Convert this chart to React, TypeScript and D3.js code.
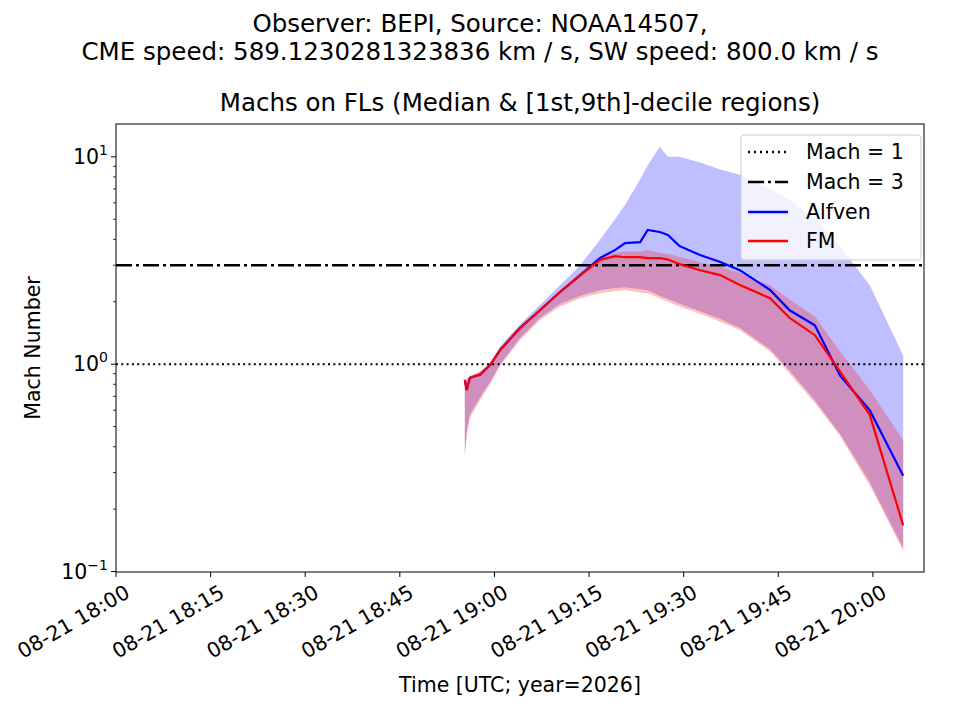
import * as d3 from 'd3';

// minutes after 2026-08-21 18:00 UTC
const minutes = [55.3, 55.6, 56.1, 57.7, 59.3, 60.9, 64.0, 67.2, 70.4, 73.6, 76.7, 79.1, 80.7, 83.1, 84.3, 86.2, 87.5, 89.3, 92.6, 95.8, 98.9, 103.7, 106.8, 110.8, 114.8, 119.5, 124.8];
const alfvenMedian = [0.84, 0.75, 0.86, 0.89, 0.99, 1.17, 1.49, 1.82, 2.23, 2.69, 3.25, 3.55, 3.84, 3.88, 4.44, 4.34, 4.2, 3.72, 3.36, 3.11, 2.84, 2.28, 1.82, 1.54, 0.88, 0.6, 0.29];
const alfvenUpper = [0.84, 0.85, 0.87, 0.92, 1.0, 1.22, 1.55, 1.93, 2.4, 3.0, 3.97, 5.0, 5.86, 7.8, 9.1, 11.2, 10.0, 10.0, 9.4, 8.7, 8.2, 7.0, 6.2, 5.0, 3.7, 2.4, 1.1];
const alfvenLower = [0.37, 0.47, 0.57, 0.69, 0.82, 1.0, 1.33, 1.67, 1.95, 2.14, 2.27, 2.33, 2.35, 2.3, 2.27, 2.14, 2.06, 1.96, 1.8, 1.65, 1.5, 1.18, 0.93, 0.67, 0.46, 0.27, 0.13];
const fmMedian = [0.84, 0.75, 0.86, 0.89, 0.99, 1.17, 1.49, 1.82, 2.23, 2.69, 3.18, 3.32, 3.28, 3.28, 3.25, 3.25, 3.2, 3.04, 2.84, 2.69, 2.41, 2.08, 1.67, 1.38, 0.92, 0.57, 0.167];
const fmUpper = [0.86, 0.78, 0.88, 0.92, 1.02, 1.2, 1.52, 1.85, 2.27, 2.75, 3.3, 3.45, 3.5, 3.5, 3.55, 3.45, 3.4, 3.3, 3.1, 2.95, 2.75, 2.4, 2.05, 1.7, 1.15, 0.75, 0.43];
const fmLower = [0.36, 0.45, 0.55, 0.67, 0.8, 0.98, 1.3, 1.63, 1.9, 2.08, 2.2, 2.25, 2.28, 2.22, 2.2, 2.08, 2.0, 1.9, 1.75, 1.6, 1.46, 1.15, 0.9, 0.65, 0.45, 0.26, 0.126];
const tickMinutes = [0, 15, 30, 45, 60, 75, 90, 105, 120];
const tickLabels = ['08-21 18:00', '08-21 18:15', '08-21 18:30', '08-21 18:45', '08-21 19:00', '08-21 19:15', '08-21 19:30', '08-21 19:45', '08-21 20:00'];

const L = 116, R = 924, T = 124, B = 572;

export default function App() {
  const x = d3.scaleLinear().domain([0, 128.1]).range([L, R]);
  const y = d3.scaleLog().domain([0.0995, 14.4]).range([B, T]);
  const idx = minutes.map((_, i) => i);
  const area = (lo: number[], hi: number[]) =>
    d3.area<number>().x((i) => x(minutes[i])).y0((i) => y(lo[i])).y1((i) => y(hi[i]))(idx) || '';
  const line = (v: number[]) => d3.line<number>().x((i) => x(minutes[i])).y((i) => y(v[i]))(idx) || '';
  const minor: number[] = [];
  for (const dec of [0.1, 1, 10]) for (let k = 2; k <= 9; k++) { const v = dec * k; if (v <= 14.4) minor.push(v); }
  const font = 'DejaVu Sans, sans-serif';
  const fs = 20.5;
  return (
    <svg width={944} height={704} style={{ display: 'block' }} fontFamily={font}>
      <g transform="translate(-8,-8)">
        <rect x={0} y={0} width={960} height={720} fill="#fff" />
        <text x={480} y={32} textAnchor="middle" fontSize={24.5}>Observer: BEPI, Source: NOAA14507,</text>
        <text x={480} y={60} textAnchor="middle" fontSize={24.5}>CME speed: 589.1230281323836 km / s, SW speed: 800.0 km / s</text>
        <text x={520} y={111} textAnchor="middle" fontSize={24.5}>Machs on FLs (Median &amp; [1st,9th]-decile regions)</text>
        <defs><clipPath id="c"><rect x={L} y={T} width={R - L} height={B - T} /></clipPath></defs>
        <g clipPath="url(#c)">
          <path d={area(alfvenLower, alfvenUpper)} fill="rgba(0,0,255,0.25)" />
          <path d={area(fmLower, fmUpper)} fill="rgba(255,0,0,0.25)" />
          <line x1={L} x2={R} y1={y(1)} y2={y(1)} stroke="#000" strokeWidth={2} strokeDasharray="2,3.3" />
          <line x1={L} x2={R} y1={y(3)} y2={y(3)} stroke="#000" strokeWidth={2.5} strokeDasharray="16,4,3,4" />
          <path d={line(alfvenMedian)} fill="none" stroke="#0000ff" strokeWidth={2.2} />
          <path d={line(fmMedian)} fill="none" stroke="#ff0000" strokeWidth={2.2} />
        </g>
        <rect x={L} y={T} width={R - L} height={B - T} fill="none" stroke="#000" strokeWidth={1} />
        {tickMinutes.map((m, i) => (
          <g key={m}>
            <line x1={x(m)} x2={x(m)} y1={B} y2={B + 5} stroke="#000" />
            <text transform={`translate(${x(m) + 8},${B + 12}) rotate(-30)`} textAnchor="end" fontSize={fs} dy="0.7em">{tickLabels[i]}</text>
          </g>
        ))}
        {[0.1, 1, 10].map((v, i) => (
          <g key={v}>
            <line x1={L - 5} x2={L} y1={y(v)} y2={y(v)} stroke="#000" />
            <text x={L - 8} y={y(v) + 7} textAnchor="end" fontSize={fs}>10<tspan dy={-9} fontSize={14}>{['−1', '0', '1'][i]}</tspan></text>
          </g>
        ))}
        {minor.map((v) => <line key={v} x1={L - 3} x2={L} y1={y(v)} y2={y(v)} stroke="#000" strokeWidth={0.8} />)}
        <text x={520} y={692} textAnchor="middle" fontSize={fs}>Time [UTC; year=2026]</text>
        <text transform="translate(40,348) rotate(-90)" textAnchor="middle" fontSize={fs}>Mach Number</text>
        <g>
          <rect x={741} y={135} width={180} height={125} rx={3} fill="rgba(255,255,255,0.8)" stroke="#ccc" />
          <line x1={748} x2={788} y1={152} y2={152} stroke="#000" strokeWidth={2.5} strokeDasharray="2,4" />
          <text x={806} y={159} fontSize={fs}>Mach = 1</text>
          <line x1={748} x2={788} y1={182} y2={182} stroke="#000" strokeWidth={2.5} strokeDasharray="16,4,3,4" />
          <text x={806} y={189} fontSize={fs}>Mach = 3</text>
          <line x1={748} x2={788} y1={212} y2={212} stroke="#0000ff" strokeWidth={2.5} />
          <text x={806} y={219} fontSize={fs}>Alfven</text>
          <line x1={748} x2={788} y1={241} y2={241} stroke="#ff0000" strokeWidth={2.5} />
          <text x={806} y={248} fontSize={fs}>FM</text>
        </g>
      </g>
    </svg>
  );
}
